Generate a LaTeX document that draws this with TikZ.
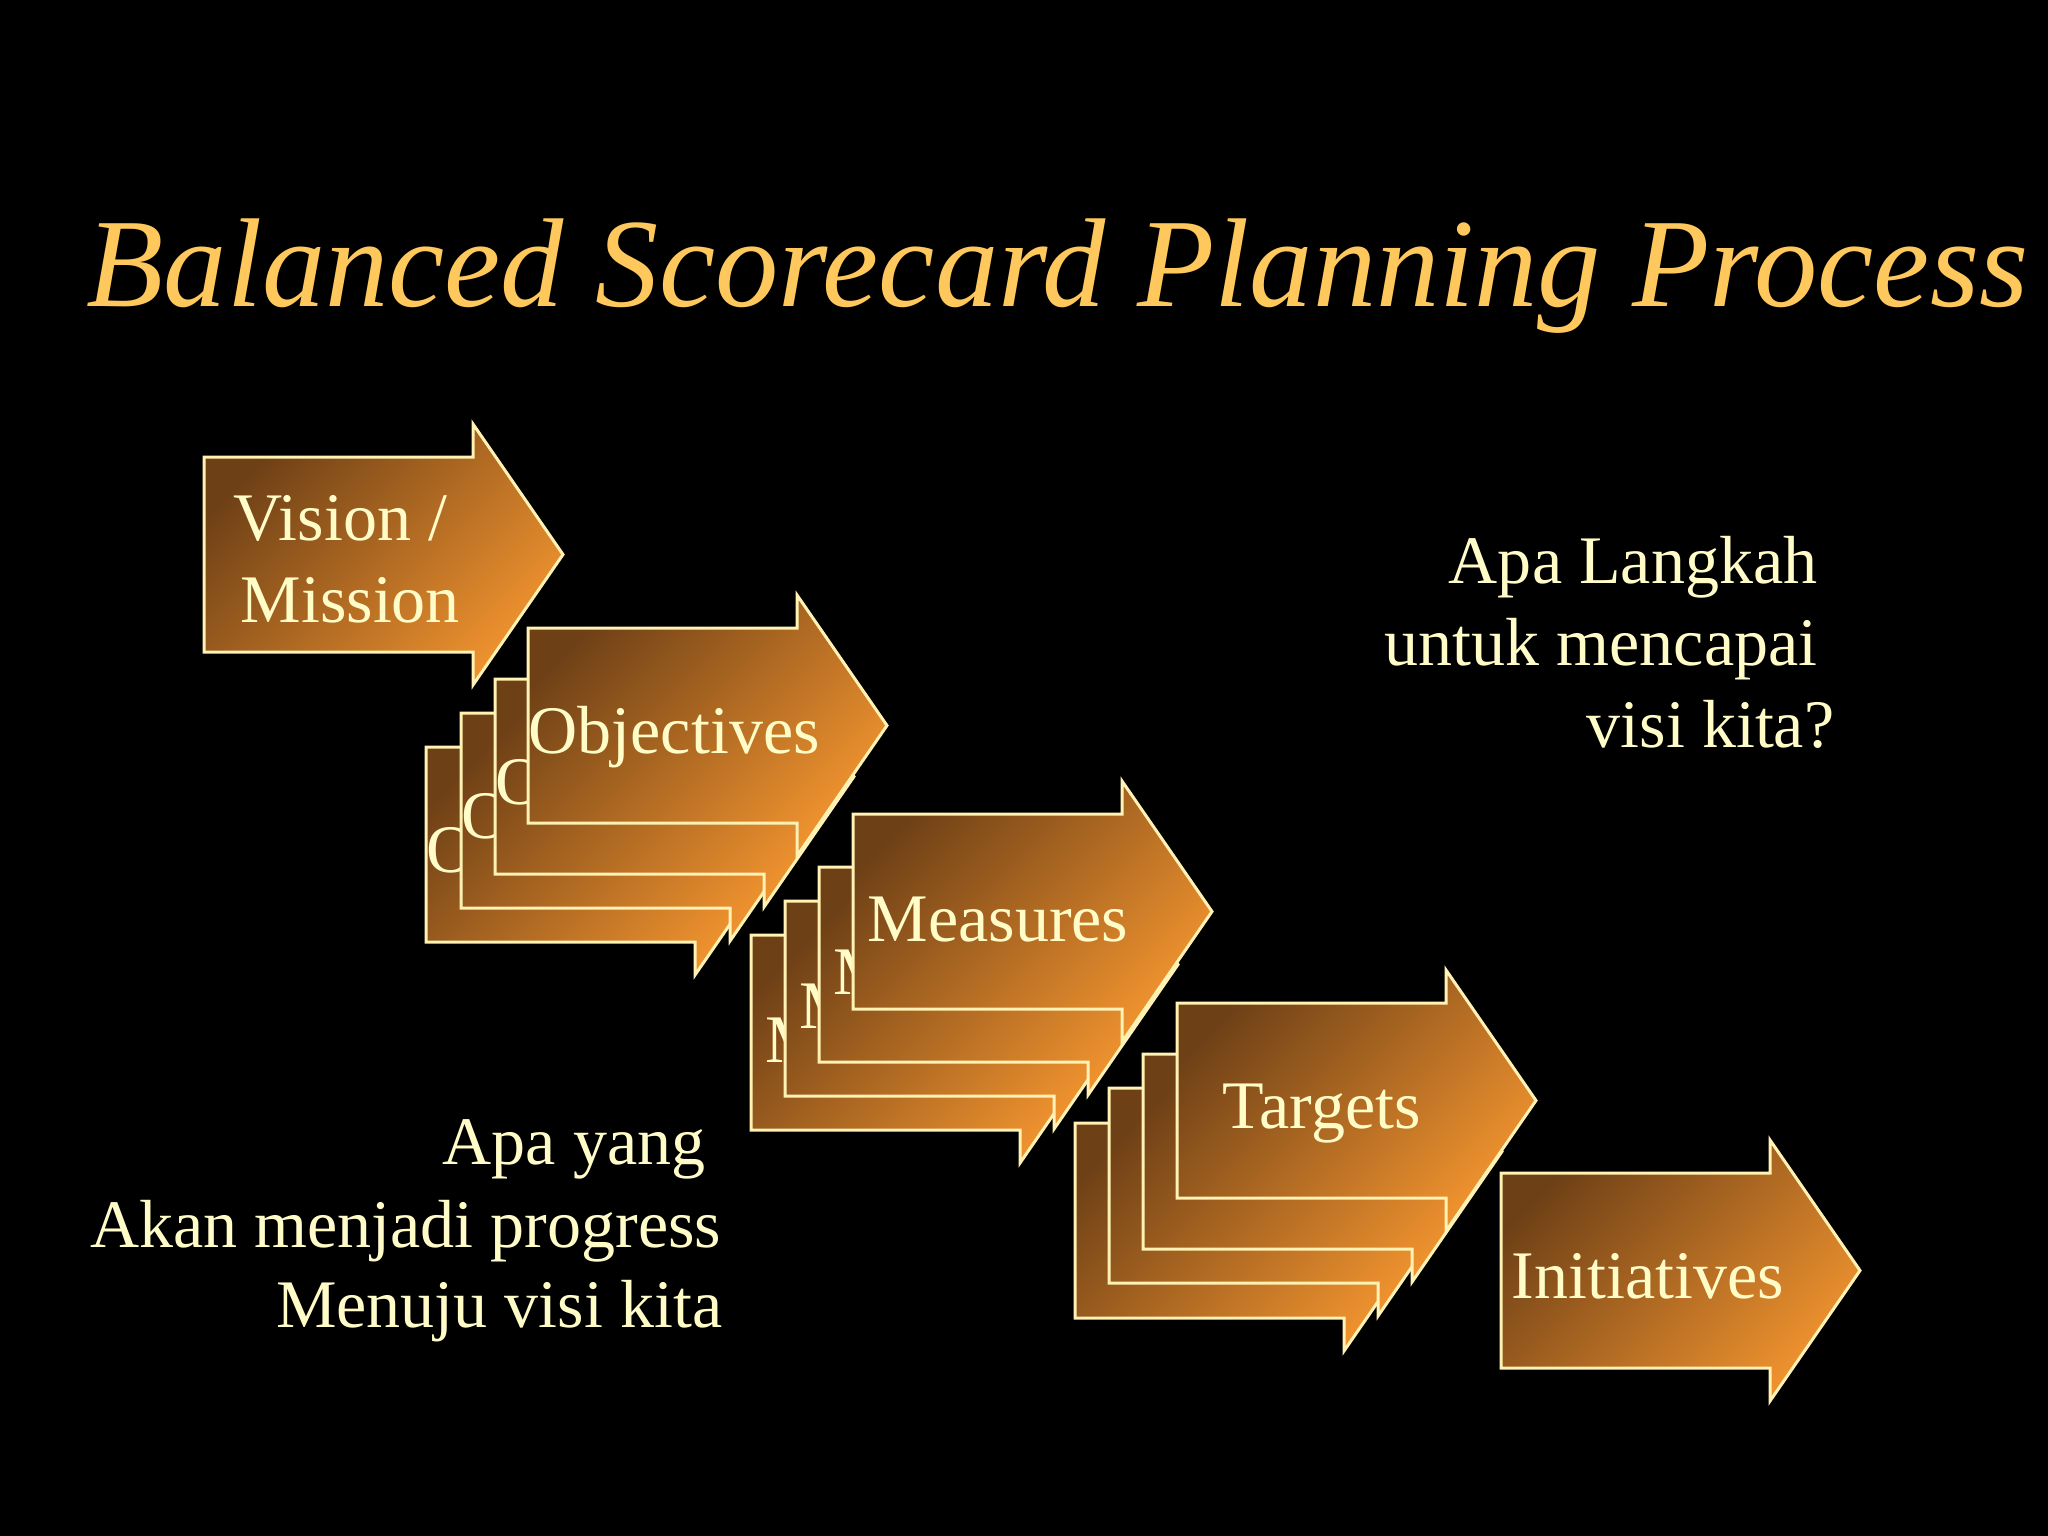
\documentclass[tikz,border=0pt]{standalone}
\usepackage{fontspec}
\setmainfont{Liberation Serif}
\definecolor{cream}{HTML}{FFFCC8}
\definecolor{edgecol}{HTML}{FFF2B4}
\definecolor{titlecol}{HTML}{FFC85C}
\definecolor{darkfill}{HTML}{6E4016}
\definecolor{lightfill}{HTML}{F0932F}
\tikzset{
  arrowshape/.style={draw=edgecol, line width=0.03cm, top color=darkfill, bottom color=lightfill, shading angle=45, line join=miter},
  lbl/.style={text=cream, font=\fontsize{19.35}{23.3}\selectfont, inner sep=0pt, anchor=base west},
  lblr/.style={lbl, anchor=base east},
}
% name, x, y, text, dx, dy
\newcommand{\bsarrow}[6]{%
  \begin{scope}[shift={(#2,#3)}]
    \path[arrowshape] (0,0) -- (269,0) -- (269,-33) -- (359,97.5) -- (269,228) -- (269,195) -- (0,195) -- cycle;
    \node[lbl] (#1) at (#5,#6) {#4};
  \end{scope}}
\begin{document}
\begin{tikzpicture}[x=0.01cm, y=-0.01cm]
  \useasboundingbox (0,0) rectangle (2048,1536);
  \fill[black] (0,0) rectangle (2048,1536);

  \node[anchor=base west, text=titlecol, inner sep=0pt,
        font=\fontsize{35.95}{40}\selectfont\itshape] (title) at (86,306) {Balanced Scorecard Planning Process};

  % Vision / Mission
  \bsarrow{vision}{204}{457}{Vision /}{29}{83}
  \node[lbl] (mission) at (240,622) {Mission};

  % Objectives stack
  \bsarrow{obj4}{426}{747}{Objectives}{0}{125}
  \bsarrow{obj3}{461}{713}{Objectives}{0}{125}
  \bsarrow{obj2}{495}{679}{Objectives}{0}{125}
  \bsarrow{obj1}{528}{628}{Objectives}{0}{125}

  % Measures stack
  \bsarrow{mea4}{751}{935}{Measures}{14}{127}
  \bsarrow{mea3}{785}{901}{Measures}{14}{127}
  \bsarrow{mea2}{819}{867}{Measures}{14}{127}
  \bsarrow{mea1}{853}{814}{Measures}{14}{127}

  % Targets stack
  \bsarrow{tar4}{1075}{1123}{Targets}{45}{125}
  \bsarrow{tar3}{1109}{1088}{Targets}{45}{125}
  \bsarrow{tar2}{1143}{1054}{Targets}{45}{125}
  \bsarrow{tar1}{1177}{1003}{Targets}{45}{125}

  % Initiatives
  \bsarrow{ini}{1501}{1173}{Initiatives}{10}{125}

  % right text
  \node[lblr] (q1) at (1818,583) {Apa Langkah};
  \node[lblr] (q2) at (1818,665) {untuk mencapai};
  \node[lblr] (q3) at (1835,747) {visi kita?};

  % bottom-left text
  \node[lblr] (p1) at (706,1164) {Apa yang};
  \node[lblr] (p2) at (722,1247) {Akan menjadi progress};
  \node[lblr] (p3) at (723,1327) {Menuju visi kita};
\end{tikzpicture}
\end{document}
